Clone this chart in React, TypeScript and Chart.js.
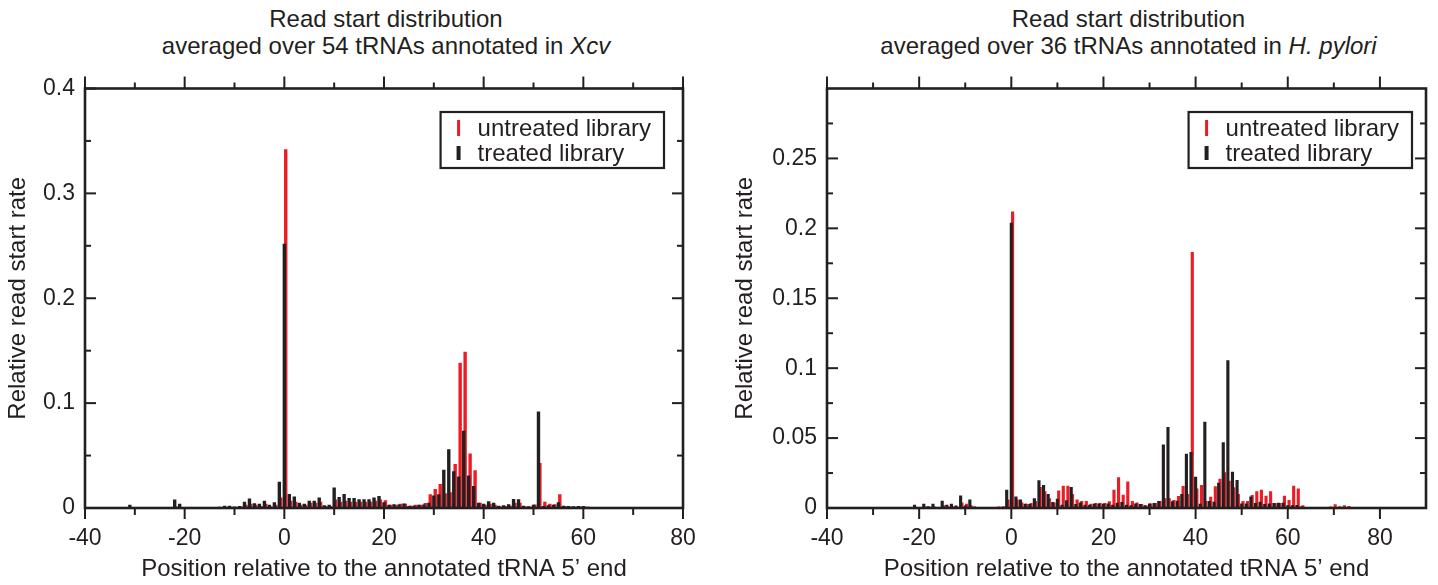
import React, { useEffect, useRef } from 'react';
import { Chart, registerables } from 'chart.js';

Chart.register(...registerables);

// ---------- data ----------
const XCV_START = -40;
const XCV_UNTREATED = [
  0.0005, 0.0005, 0.0005, 0.0005, 0.0005, 0.0005, 0.0005, 0.0005, 0.0006, 0.0010,
  0.0005, 0.0005, 0.0005, 0.0006, 0.0005, 0.0006, 0.0005, 0.0006, 0.0015, 0.0010,
  0.0005, 0.0006, 0.0006, 0.0008, 0.0006, 0.0008, 0.0008, 0.0010, 0.0012, 0.0012,
  0.0010, 0.0015, 0.0030, 0.0040, 0.0030, 0.0020, 0.0040, 0.0015, 0.0030, 0.0100,
  0.3420, 0.0070, 0.0060, 0.0030, 0.0030, 0.0050, 0.0050, 0.0060, 0.0020, 0.0020,
  0.0080, 0.0060, 0.0070, 0.0060, 0.0060, 0.0060, 0.0060, 0.0060, 0.0070, 0.0080,
  0.0074, 0.0030, 0.0030, 0.0040, 0.0040, 0.0025, 0.0030, 0.0030, 0.0048, 0.0130,
  0.0180, 0.0230, 0.0140, 0.0150, 0.0420, 0.1386, 0.1490, 0.0520, 0.0360, 0.0050,
  0.0030, 0.0040, 0.0030, 0.0015, 0.0020, 0.0025, 0.0050, 0.0050, 0.0015, 0.0012,
  0.0033, 0.0430, 0.0060, 0.0040, 0.0035, 0.0130, 0.0020, 0.0015, 0.0012, 0.0015,
  0.0015, 0.0010, 0.0008, 0.0007, 0.0007, 0.0007, 0.0007, 0.0007, 0.0007, 0.0007,
  0.0007, 0.0007, 0.0007, 0.0007, 0.0007, 0.0007, 0.0004, 0.0004, 0.0004, 0.0004,
  0.0004,
];
const XCV_TREATED = [
  0.0005, 0.0005, 0.0005, 0.0005, 0.0006, 0.0005, 0.0008, 0.0006, 0.0008, 0.0032,
  0.0006, 0.0008, 0.0008, 0.0007, 0.0008, 0.0006, 0.0008, 0.0010, 0.0080, 0.0040,
  0.0010, 0.0008, 0.0008, 0.0008, 0.0008, 0.0010, 0.0010, 0.0012, 0.0022, 0.0022,
  0.0015, 0.0020, 0.0060, 0.0090, 0.0045, 0.0040, 0.0070, 0.0030, 0.0055, 0.0250,
  0.2520, 0.0134, 0.0110, 0.0050, 0.0040, 0.0070, 0.0070, 0.0100, 0.0026, 0.0030,
  0.0195, 0.0106, 0.0134, 0.0096, 0.0096, 0.0083, 0.0083, 0.0083, 0.0100, 0.0115,
  0.0055, 0.0030, 0.0035, 0.0033, 0.0042, 0.0020, 0.0022, 0.0030, 0.0033, 0.0050,
  0.0120, 0.0130, 0.0365, 0.0560, 0.0350, 0.0300, 0.0736, 0.0310, 0.0210, 0.0050,
  0.0040, 0.0064, 0.0050, 0.0022, 0.0026, 0.0035, 0.0086, 0.0083, 0.0022, 0.0016,
  0.0030, 0.0920, 0.0020, 0.0026, 0.0032, 0.0055, 0.0022, 0.0020, 0.0016, 0.0020,
  0.0020, 0.0013, 0.0010, 0.0008, 0.0008, 0.0008, 0.0008, 0.0008, 0.0008, 0.0008,
  0.0008, 0.0008, 0.0008, 0.0008, 0.0008, 0.0008, 0.0004, 0.0004, 0.0004, 0.0004,
  0.0004,
];

const HP_START = -40;
const HP_UNTREATED = [
  0.0004, 0.0004, 0.0004, 0.0004, 0.0004, 0.0004, 0.0004, 0.0004, 0.0004, 0.0004,
  0.0004, 0.0004, 0.0004, 0.0004, 0.0004, 0.0004, 0.0004, 0.0004, 0.0004, 0.0008,
  0.0005, 0.0010, 0.0006, 0.0010, 0.0005, 0.0020, 0.0010, 0.0012, 0.0008, 0.0040,
  0.0030, 0.0020, 0.0005, 0.0006, 0.0006, 0.0008, 0.0008, 0.0010, 0.0012, 0.0060,
  0.2120, 0.0060, 0.0040, 0.0030, 0.0036, 0.0050, 0.0150, 0.0120, 0.0070, 0.0040,
  0.0126, 0.0160, 0.0160, 0.0100, 0.0060, 0.0050, 0.0050, 0.0030, 0.0035, 0.0036,
  0.0036, 0.0048, 0.0130, 0.0220, 0.0095, 0.0190, 0.0050, 0.0040, 0.0029, 0.0017,
  0.0033, 0.0036, 0.0050, 0.0070, 0.0070, 0.0057, 0.0086, 0.0157, 0.0100, 0.1830,
  0.0140, 0.0164, 0.0050, 0.0080, 0.0155, 0.0210, 0.0255, 0.0195, 0.0148, 0.0100,
  0.0050, 0.0050, 0.0093, 0.0120, 0.0130, 0.0088, 0.0120, 0.0036, 0.0036, 0.0088,
  0.0057, 0.0160, 0.0140, 0.0020, 0.0008, 0.0008, 0.0008, 0.0008, 0.0008, 0.0010,
  0.0026, 0.0012, 0.0020, 0.0015, 0.0005, 0.0005, 0.0005, 0.0005, 0.0005, 0.0005,
  0.0005, 0.0005, 0.0005, 0.0005, 0.0005, 0.0005, 0.0005, 0.0005, 0.0005, 0.0005,
  0.0005,
];
const HP_TREATED = [
  0.0005, 0.0005, 0.0005, 0.0005, 0.0005, 0.0005, 0.0005, 0.0005, 0.0005, 0.0005,
  0.0005, 0.0005, 0.0005, 0.0005, 0.0005, 0.0005, 0.0005, 0.0005, 0.0005, 0.0024,
  0.0006, 0.0030, 0.0012, 0.0030, 0.0008, 0.0052, 0.0024, 0.0030, 0.0017, 0.0090,
  0.0017, 0.0060, 0.0010, 0.0007, 0.0007, 0.0007, 0.0007, 0.0007, 0.0008, 0.0130,
  0.2040, 0.0083, 0.0060, 0.0030, 0.0029, 0.0070, 0.0198, 0.0164, 0.0100, 0.0043,
  0.0067, 0.0024, 0.0055, 0.0150, 0.0029, 0.0040, 0.0024, 0.0024, 0.0030, 0.0033,
  0.0030, 0.0033, 0.0024, 0.0038, 0.0043, 0.0024, 0.0019, 0.0033, 0.0029, 0.0019,
  0.0033, 0.0036, 0.0050, 0.0455, 0.0580, 0.0048, 0.0052, 0.0100, 0.0388, 0.0400,
  0.0224, 0.0030, 0.0617, 0.0050, 0.0045, 0.0180, 0.0470, 0.1057, 0.0260, 0.0200,
  0.0033, 0.0033, 0.0083, 0.0036, 0.0045, 0.0029, 0.0033, 0.0036, 0.0038, 0.0038,
  0.0019, 0.0019, 0.0021, 0.0010, 0.0007, 0.0007, 0.0007, 0.0007, 0.0007, 0.0006,
  0.0007, 0.0006, 0.0006, 0.0006, 0.0005, 0.0005, 0.0005, 0.0005, 0.0005, 0.0005,
  0.0005, 0.0005, 0.0005, 0.0005, 0.0005, 0.0005, 0.0005, 0.0005, 0.0005, 0.0005,
  0.0005,
];

const X_TICKS = [-40, -20, 0, 20, 40, 60, 80];
const X_MINOR = [-30, -10, 10, 30, 50, 70];
const XCV_Y_TICKS = [0, 0.1, 0.2, 0.3, 0.4];
const XCV_Y_MINOR = [0.05, 0.15, 0.25, 0.35];
const HP_Y_TICKS = [0, 0.05, 0.1, 0.15, 0.2, 0.25];
const HP_Y_MINOR = [0.025, 0.075, 0.125, 0.175, 0.225, 0.275];

const LEGEND_LABELS = ['untreated library', 'treated library'];
const X_TITLE = 'Position relative to the annotated tRNA 5\u2019 end';
const Y_TITLE = 'Relative read start rate';

// ---------- styles ----------
const INK = '#231f20';
const RED = '#ec1c24';
const FONT_FAMILY = '"Liberation Sans", Arial, Helvetica, sans-serif';
const TICK_SIZE = 23;
const LABEL_SIZE = 24;

const frameTicksPlugin = {
  id: 'frameTicks',
  afterDatasetsDraw(chart: any, _args: any, opts: any) {
    const { ctx, chartArea: a, scales } = chart;
    const xs = scales.x;
    const ys = scales.y;
    const line = (x1: number, y1: number, x2: number, y2: number) => {
      ctx.beginPath();
      ctx.moveTo(x1, y1);
      ctx.lineTo(x2, y2);
      ctx.stroke();
    };
    ctx.save();
    ctx.strokeStyle = INK;
    ctx.lineCap = 'butt';
    ctx.lineWidth = 2;
    for (const v of opts.xMajor) {
      const px = xs.getPixelForValue(v);
      line(px, a.bottom, px, a.bottom + 11);
      line(px, a.top, px, a.top - 12);
    }
    for (const v of opts.xMinor) {
      const px = xs.getPixelForValue(v);
      line(px, a.bottom, px, a.bottom + 7);
      line(px, a.top, px, a.top - 6);
    }
    for (const v of opts.yMajor) {
      const py = ys.getPixelForValue(v);
      line(a.left, py, a.left + 11, py);
      line(a.right, py, a.right - 11, py);
    }
    for (const v of opts.yMinor) {
      const py = ys.getPixelForValue(v);
      line(a.left, py, a.left + 6, py);
      line(a.right, py, a.right - 6, py);
    }
    ctx.lineWidth = 2.6;
    ctx.strokeRect(a.left, a.top, a.right - a.left, a.bottom - a.top);
    ctx.restore();
  },
};

const boxLegendPlugin = {
  id: 'boxLegend',
  afterDraw(chart: any, _args: any, opts: any) {
    const { ctx, chartArea: a } = chart;
    ctx.save();
    ctx.font = `${LABEL_SIZE}px ${FONT_FAMILY}`;
    const tw = Math.max(...opts.items.map((it: any) => ctx.measureText(it.label).width));
    const w = 38 + tw + 12;
    const h = 56;
    const right = a.right - opts.right;
    const left = right - w;
    const top = a.top + opts.top;
    ctx.strokeStyle = INK;
    ctx.lineWidth = 2.2;
    ctx.strokeRect(left, top, w, h);
    opts.items.forEach((it: any, i: number) => {
      const cy = top + 16 + i * 25;
      ctx.fillStyle = it.color;
      ctx.fillRect(left + 18 - it.w / 2, cy - it.h / 2, it.w, it.h);
      ctx.fillStyle = INK;
      ctx.textBaseline = 'middle';
      ctx.textAlign = 'left';
      ctx.fillText(it.label, left + 37, cy + 1);
    });
    ctx.restore();
  },
};

type PanelProps = {
  left: number;
  width: number;
  yAxisWidth: number;
  rightPad: number;
  yTitlePad: number;
  start: number;
  untreated: number[];
  treated: number[];
  xMax: number;
  yMax: number;
  yTicks: number[];
  yMinor: number[];
  legendRight: number;
  titleLine2: React.ReactNode;
};

function Panel(p: PanelProps) {
  const ref = useRef<HTMLCanvasElement | null>(null);
  useEffect(() => {
    if (!ref.current) return;
    const tickFont = { family: FONT_FAMILY, size: TICK_SIZE };
    const labelFont = { family: FONT_FAMILY, size: LABEL_SIZE };
    const shift = 0.28;
    const chart = new Chart(ref.current, {
      type: 'bar',
      data: {
        datasets: [
          {
            label: LEGEND_LABELS[1],
            data: p.treated.map((y, i) => ({ x: p.start + i, y })),
            backgroundColor: INK,
            xAxisID: 'x',
            grouped: false,
            barPercentage: 0.68,
            categoryPercentage: 1,
          } as any,
          {
            label: LEGEND_LABELS[0],
            data: p.untreated.map((y, i) => ({ x: p.start + i, y })),
            backgroundColor: RED,
            xAxisID: 'xr',
            grouped: false,
            barPercentage: 0.68,
            categoryPercentage: 1,
          } as any,
        ],
      },
      options: {
        animation: false,
        responsive: false,
        events: [],
        layout: { padding: { top: 88.5, right: p.rightPad, left: 0, bottom: 0 } },
        plugins: {
          legend: { display: false },
          tooltip: { enabled: false },
          frameTicks: { xMajor: X_TICKS, xMinor: X_MINOR, yMajor: p.yTicks, yMinor: p.yMinor },
          boxLegend: {
            right: p.legendRight,
            top: 23.5,
            items: [
              { label: LEGEND_LABELS[0], color: RED, w: 3, h: 16 },
              { label: LEGEND_LABELS[1], color: INK, w: 4, h: 14 },
            ],
          },
        } as any,
        scales: {
          x: {
            type: 'linear',
            min: X_TICKS[0],
            max: p.xMax,
            offset: false,
            grid: { display: false, drawTicks: false },
            border: { display: false },
            afterBuildTicks: (s: any) => {
              s.ticks = X_TICKS.map((v) => ({ value: v }));
            },
            afterFit: (s: any) => {
              s.height = 77;
            },
            ticks: {
              font: tickFont,
              color: INK,
              padding: 17,
              maxRotation: 0,
              autoSkip: false,
              callback: (v: any) => String(v),
            },
            title: { display: true, text: X_TITLE, font: labelFont, color: INK, padding: { top: 0, bottom: 1 } },
          },
          xr: {
            type: 'linear',
            display: false,
            min: X_TICKS[0] - shift,
            max: p.xMax - shift,
            offset: false,
          },
          y: {
            type: 'linear',
            min: 0,
            max: p.yMax,
            grid: { display: false, drawTicks: false },
            border: { display: false },
            afterBuildTicks: (s: any) => {
              s.ticks = p.yTicks.map((v) => ({ value: v }));
            },
            afterFit: (s: any) => {
              s.width = p.yAxisWidth;
            },
            ticks: {
              font: tickFont,
              color: INK,
              padding: 10,
              autoSkip: false,
              callback: (v: any) => String(v),
            },
            title: { display: true, text: Y_TITLE, font: labelFont, color: INK, padding: { top: p.yTitlePad, bottom: 0 } },
          },
        } as any,
      },
      plugins: [frameTicksPlugin, boxLegendPlugin],
    });
    return () => chart.destroy();
  }, []);

  const plotLeft = p.yAxisWidth;
  const plotRight = p.width - p.rightPad;
  const center = (plotLeft + plotRight) / 2 + 2;
  return (
    <div style={{ position: 'absolute', left: p.left, top: 0, width: p.width, height: 585 }}>
      <div
        style={{
          position: 'absolute',
          left: center - 350,
          width: 700,
          top: 5,
          textAlign: 'center',
          fontFamily: FONT_FAMILY,
          fontSize: 24,
          lineHeight: '27px',
          color: INK,
          whiteSpace: 'nowrap',
        }}
      >
        <div>Read start distribution</div>
        <div>{p.titleLine2}</div>
      </div>
      <canvas ref={ref} width={p.width} height={585} style={{ position: 'absolute', left: 0, top: 0 }} />
    </div>
  );
}

export default function App() {
  return (
    <div style={{ position: 'absolute', left: 0, top: 0, width: 1438, height: 585, background: '#fff' }}>
      <Panel
        left={0}
        width={719}
        yAxisWidth={85}
        rightPad={36}
        yTitlePad={4}
        start={XCV_START}
        untreated={XCV_UNTREATED}
        treated={XCV_TREATED}
        xMax={80}
        yMax={0.4}
        yTicks={XCV_Y_TICKS}
        yMinor={XCV_Y_MINOR}
        legendRight={19}
        titleLine2={<>averaged over 54 tRNAs annotated in <i>Xcv</i></>}
      />
      <Panel
        left={719}
        width={719}
        yAxisWidth={108}
        rightPad={12}
        yTitlePad={12}
        start={HP_START}
        untreated={HP_UNTREATED}
        treated={HP_TREATED}
        xMax={90}
        yMax={0.3}
        yTicks={HP_Y_TICKS}
        yMinor={HP_Y_MINOR}
        legendRight={14}
        titleLine2={<>averaged over 36 tRNAs annotated in <i>H. pylori</i></>}
      />
    </div>
  );
}
